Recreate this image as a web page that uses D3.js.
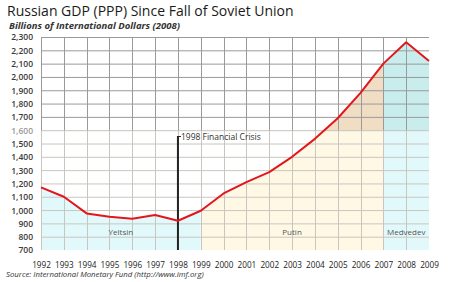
<!DOCTYPE html>
<html>
<head>
<meta charset="utf-8">
<script src="https://cdn.jsdelivr.net/npm/d3@7"></script>
<style>
  body { margin: 0; background: #fff; }
  svg { display: block; }
  text { font-family: 'Open Sans', sans-serif; }
</style>
</head>
<body>
<svg id="chart" width="450" height="282"></svg>
<script>
// data
const years = d3.range(1992, 2010);
const gdp = [1170, 1100, 975, 950, 935, 963, 920, 995, 1125, 1210, 1285, 1400, 1535, 1690, 1880, 2100, 2260, 2120];
const yTicks = d3.range(700, 2301, 100);
const eras = [
  { name: 'Yeltsin', from: 1992, to: 1999, low: '#e2f9fc', high: '#c9eded' },
  { name: 'Putin', from: 1999, to: 2007, low: '#fff8e4', high: '#f1dcc4' },
  { name: 'Medvedev', from: 2007, to: 2009, low: '#e2f9fc', high: '#c9eded' }
];
const crisisYear = 1998;
const crisisLabel = '1998 Financial Crisis';
const splitValue = 1600; // the picture is darker above this level

const data = years.map((y, i) => ({ year: y, value: gdp[i] }));

const svg = d3.select('#chart');
const x = d3.scaleLinear().domain([1992, 2009]).range([41, 429]);
const y = d3.scaleLinear().domain([700, 2300]).range([250, 37]);

const defs = svg.append('defs');
// clip regions above/below the split line
const addClip = (id, x0, x1, v0, v1) => {
  defs.append('clipPath').attr('id', id)
    .append('rect')
    .attr('x', x(x0)).attr('width', x(x1) - x(x0))
    .attr('y', y(v1)).attr('height', y(v0) - y(v1));
};
addClip('clipLow', 1992, 2009, 700, splitValue);
addClip('clipHigh', 1992, 2009, splitValue, 2300);

const area = d3.area()
  .x(d => x(d.year))
  .y0(y(700))
  .y1(d => y(d.value));

eras.forEach((e, i) => {
  const seg = data.filter(d => d.year >= e.from && d.year <= e.to);
  addClip('eraLow' + i, e.from, e.to, 700, splitValue);
  addClip('eraHigh' + i, e.from, e.to, splitValue, 2300);
  svg.append('path').attr('d', area(seg)).attr('fill', e.low).attr('clip-path', `url(#eraLow${i})`);
  svg.append('path').attr('d', area(seg)).attr('fill', e.high).attr('clip-path', `url(#eraHigh${i})`);
});

// grid, lighter in the lower part
const drawGrid = (clip, color) => {
  const g = svg.append('g').attr('clip-path', `url(#${clip})`);
  g.selectAll('.h').data(yTicks).enter().append('line')
    .attr('x1', x(1992)).attr('x2', x(2009))
    .attr('y1', d => y(d) + 0.5).attr('y2', d => y(d) + 0.5)
    .attr('stroke', color).attr('stroke-width', 1);
  g.selectAll('.v').data(years).enter().append('line')
    .attr('x1', d => Math.round(x(d)) + 0.5).attr('x2', d => Math.round(x(d)) + 0.5)
    .attr('y1', y(700)).attr('y2', y(2300))
    .attr('stroke', color).attr('stroke-width', 1);
};
drawGrid('clipLow', '#c9c6c0');
drawGrid('clipHigh', '#9a9a9a');

// crisis marker
svg.append('line')
  .attr('x1', x(crisisYear)).attr('x2', x(crisisYear))
  .attr('y1', y(700)).attr('y2', 136)
  .attr('stroke', '#222').attr('stroke-width', 2);
svg.append('line')
  .attr('x1', x(crisisYear)).attr('x2', x(crisisYear) + 3)
  .attr('y1', 136.5).attr('y2', 136.5)
  .attr('stroke', '#222').attr('stroke-width', 1);
svg.append('text')
  .attr('x', x(crisisYear) + 3).attr('y', 139.5)
  .attr('font-size', 8.5).attr('fill', '#333')
  .text(crisisLabel);

// GDP line
const line = d3.line().x(d => x(d.year)).y(d => y(d.value));
svg.append('path').attr('d', line(data))
  .attr('fill', 'none').attr('stroke', '#e3161c').attr('stroke-width', 2)
  .attr('stroke-linejoin', 'round');

// era labels
svg.selectAll('.era').data(eras).enter().append('text')
  .attr('x', d => (x(d.from) + x(d.to)) / 2)
  .attr('y', 234.5)
  .attr('text-anchor', 'middle')
  .attr('font-size', 8).attr('fill', '#555')
  .text(d => d.name);

// y axis labels
const yAxis = d3.axisLeft(y).tickValues(yTicks).tickSize(0).tickPadding(0)
  .tickFormat(d3.format(','));
const yg = svg.append('g').attr('transform', 'translate(33,0)').call(yAxis);
yg.select('.domain').remove();
yg.selectAll('text')
  .attr('font-family', "'Open Sans', sans-serif")
  .attr('font-size', 8.5).attr('font-weight', 600).attr('fill', '#3a3a3a')
  .attr('dy', '0.35em');
yg.selectAll('.tick').filter(d => d === 1600).select('text').attr('fill', '#999');

// x axis labels
const xAxis = d3.axisBottom(x).tickValues(years).tickSize(0).tickPadding(0)
  .tickFormat(d3.format('d'));
const xg = svg.append('g').attr('transform', 'translate(0,262)').call(xAxis);
xg.select('.domain').remove();
xg.selectAll('text')
  .attr('font-family', "'Open Sans', sans-serif")
  .attr('font-size', 8.2).attr('fill', '#222').attr('dy', '0.71em');

// titles
svg.append('text').attr('x', 7).attr('y', 16)
  .attr('font-family', 'Lato, sans-serif')
  .attr('font-size', 14).attr('fill', '#1a1a1a')
  .text('Russian GDP (PPP) Since Fall of Soviet Union');
svg.append('text').attr('x', 9).attr('y', 28.5)
  .attr('font-family', 'Lato, sans-serif')
  .attr('font-size', 9.5).attr('font-weight', 'bold').attr('font-style', 'italic').attr('fill', '#333')
  .text('Billions of International Dollars (2008)');
svg.append('text').attr('x', 6).attr('y', 277)
  .attr('font-size', 7.8).attr('font-style', 'italic').attr('fill', '#333')
  .text('Source: International Monetary Fund (http://www.imf.org)');
</script>
</body>
</html>
